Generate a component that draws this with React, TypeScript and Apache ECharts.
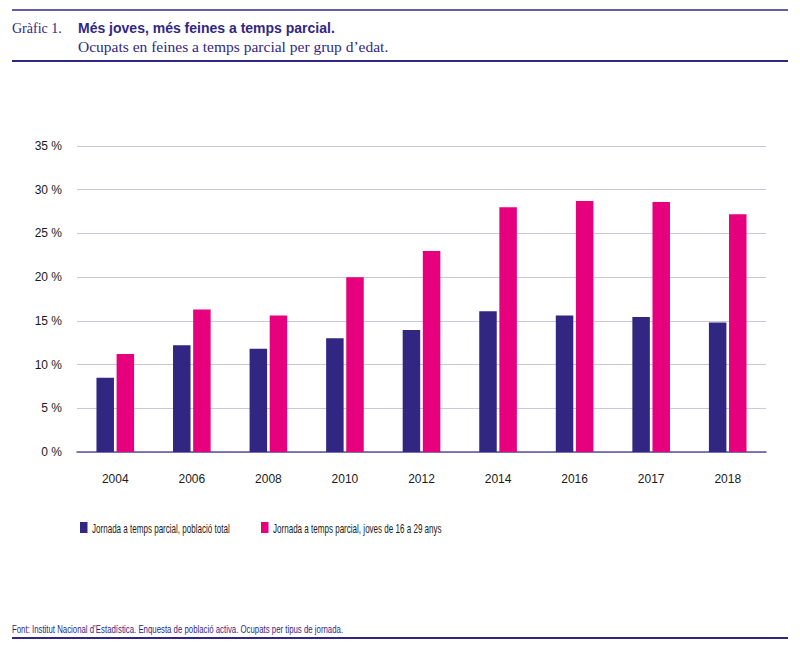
import React, { useEffect, useRef } from "react";
import * as echarts from "echarts";

const years = ["2004", "2006", "2008", "2010", "2012", "2014", "2016", "2017", "2018"];
const totalPop = [8.5, 12.2, 11.8, 13.0, 13.95, 16.1, 15.6, 15.45, 14.8];
const youth = [11.2, 16.3, 15.6, 20.0, 23.0, 28.0, 28.7, 28.6, 27.2];
const seriesNames = [
  "Jornada a temps parcial, població total",
  "Jornada a temps parcial, joves de 16 a 29 anys",
];

const NAVY = "#312783";
const PINK = "#E6007E";
const SANS = "'Liberation Sans', Arial, sans-serif";
const SERIF = "'Liberation Serif', 'DejaVu Serif', serif";

export default function App() {
  const ref = useRef<HTMLDivElement>(null);
  useEffect(() => {
    document.body.style.margin = "0";
    const chart = echarts.init(ref.current!, null, { renderer: "svg" });
    chart.setOption({
      animation: false,
      backgroundColor: "#ffffff",
      grid: { left: 77, right: 34, top: 146, bottom: 198, containLabel: false },
      xAxis: {
        type: "category",
        data: years,
        axisLine: { lineStyle: { color: "#5b519f", width: 1.5 } },
        axisTick: { show: false },
        axisLabel: { color: "#1a1a1a", fontSize: 12, fontFamily: SANS, margin: 21 },
      },
      yAxis: {
        type: "value",
        min: 0,
        max: 35,
        interval: 5,
        axisLine: { show: false },
        axisTick: { show: false },
        splitLine: { lineStyle: { color: "#cac6e0", width: 1 } },
        axisLabel: {
          color: "#1a1a1a",
          fontSize: 12,
          fontFamily: SANS,
          margin: 15,
          formatter: (v: number) => `${v} %`,
        },
      },
      series: [
        {
          name: seriesNames[0],
          type: "bar",
          data: totalPop,
          barWidth: 17.5,
          barGap: "15%",
          itemStyle: { color: NAVY },
        },
        {
          name: seriesNames[1],
          type: "bar",
          data: youth,
          barWidth: 17.5,
          itemStyle: { color: PINK },
        },
      ],
      graphic: [
        { type: "line", shape: { x1: 12, y1: 10, x2: 788, y2: 10 }, style: { stroke: NAVY, lineWidth: 1.5 } },
        { type: "line", shape: { x1: 12, y1: 61, x2: 788, y2: 61 }, style: { stroke: NAVY, lineWidth: 2 } },
        { type: "line", shape: { x1: 12, y1: 638, x2: 788, y2: 638 }, style: { stroke: NAVY, lineWidth: 2 } },
        {
          type: "text",
          x: 12,
          y: 28,
          style: { text: "Gràfic 1.", fill: NAVY, font: `14px ${SERIF}`, verticalAlign: "middle" },
        },
        {
          type: "text",
          x: 78,
          y: 28,
          style: { text: "Més joves, més feines a temps parcial.", fill: NAVY, font: `bold 14px ${SANS}`, verticalAlign: "middle" },
        },
        {
          type: "text",
          x: 78,
          y: 46,
          style: { text: "Ocupats en feines a temps parcial per grup d’edat.", fill: NAVY, font: `15.5px ${SERIF}`, verticalAlign: "middle" },
        },
        // legend
        { type: "rect", shape: { x: 80, y: 522, width: 7.5, height: 11 }, style: { fill: NAVY } },
        {
          type: "text",
          x: 92,
          y: 528,
          scaleX: 0.62,
          style: { text: seriesNames[0], fill: "#1a1a1a", font: `13px ${SANS}`, verticalAlign: "middle" },
        },
        { type: "rect", shape: { x: 261, y: 522, width: 7.5, height: 11 }, style: { fill: PINK } },
        {
          type: "text",
          x: 273,
          y: 528,
          scaleX: 0.62,
          style: { text: seriesNames[1], fill: "#1a1a1a", font: `13px ${SANS}`, verticalAlign: "middle" },
        },
        {
          type: "text",
          x: 12,
          y: 629,
          scaleX: 0.68,
          style: {
            text: "Font: Institut Nacional d’Estadística. Enquesta de població activa. Ocupats per tipus de jornada.",
            fill: NAVY,
            font: `11.5px ${SANS}`,
            verticalAlign: "middle",
          },
        },
      ],
    });
    return () => chart.dispose();
  }, []);
  return <div ref={ref} style={{ width: 800, height: 650 }} />;
}
